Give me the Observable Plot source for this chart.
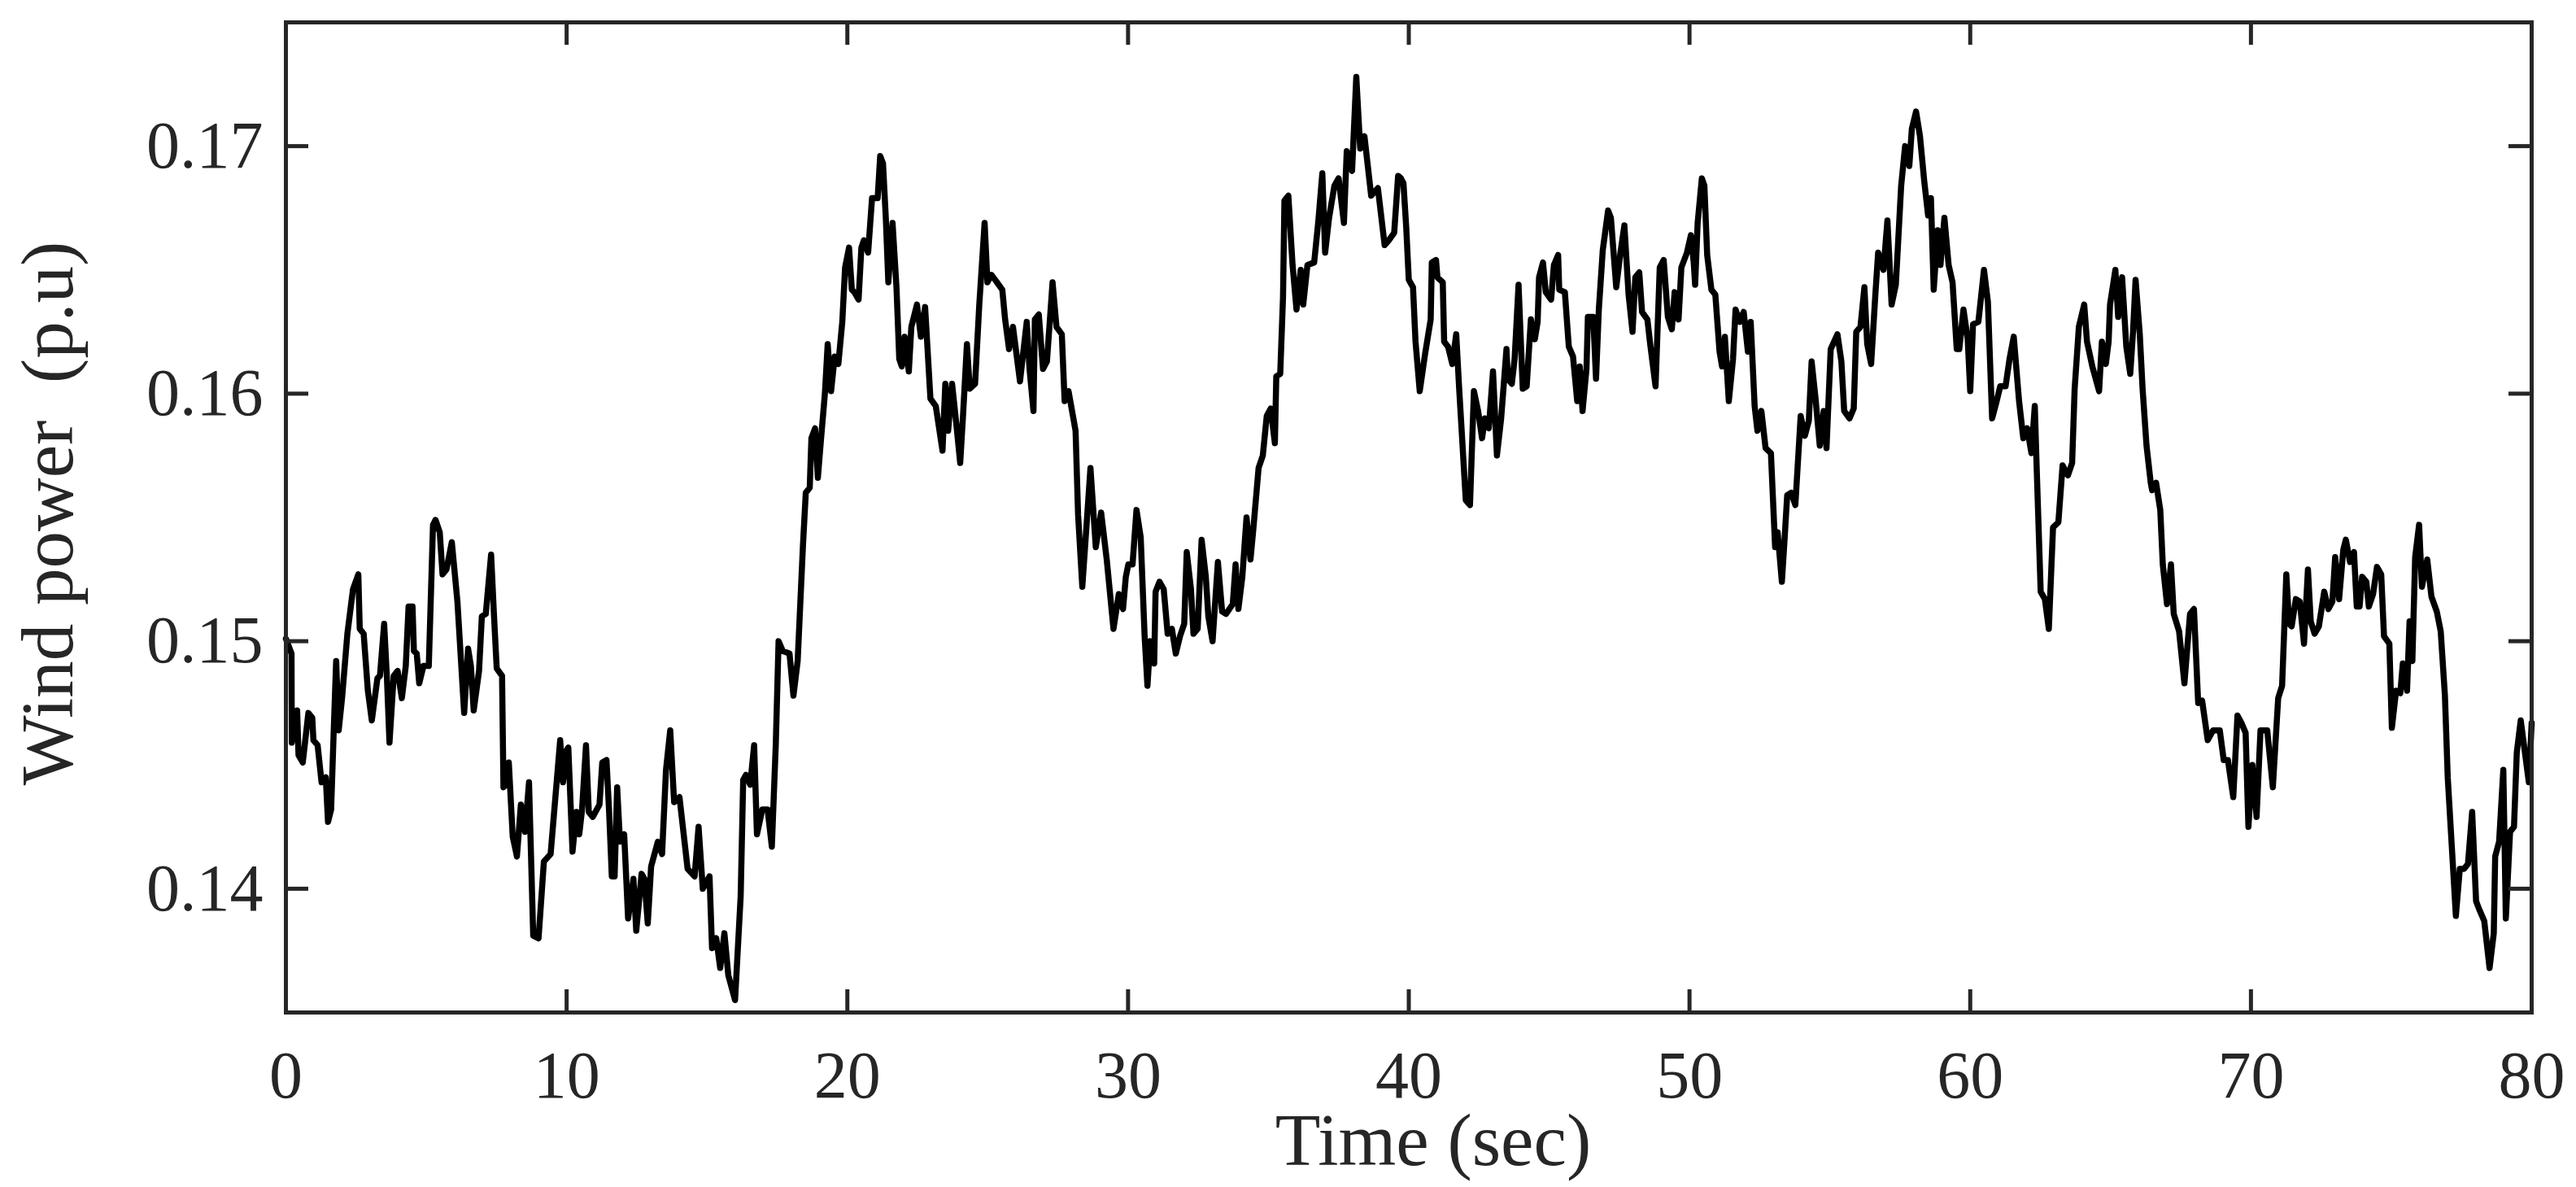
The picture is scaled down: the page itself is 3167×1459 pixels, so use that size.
<!DOCTYPE html>
<html>
<head>
<meta charset="utf-8">
<script src="https://cdn.jsdelivr.net/npm/d3@7"></script>
<script src="https://cdn.jsdelivr.net/npm/@observablehq/plot@0.6"></script>
<style>
  html, body { margin: 0; padding: 0; background: #ffffff; }
  #chart svg text { white-space: pre; }
</style>
</head>
<body>
<div id="chart"></div>
<script>
// Time axis (seconds)
const time = [
  0, 0.2, 0.21, 0.4, 0.45, 0.6, 0.8, 0.94, 0.98, 1.13,
  1.27, 1.42, 1.5, 1.61, 1.71, 1.79, 1.88, 2.0, 2.19, 2.39,
  2.58, 2.63, 2.77, 2.92, 3.06, 3.26, 3.35, 3.5, 3.6, 3.69,
  3.84, 3.98, 4.13, 4.27, 4.37, 4.51, 4.56, 4.66, 4.75, 4.9,
  5.09, 5.24, 5.33, 5.48, 5.58, 5.72, 5.91, 6.11, 6.35, 6.49,
  6.59, 6.69, 6.88, 6.98, 7.12, 7.31, 7.41, 7.51, 7.7, 7.75,
  7.84, 7.94, 8.08, 8.23, 8.37, 8.52, 8.66, 8.81, 9.0, 9.19,
  9.43, 9.77, 9.87, 10.0,
  10.06, 10.21, 10.35, 10.45, 10.55, 10.69, 10.79, 10.93, 11.17, 11.27,
  11.42, 11.51, 11.61, 11.71, 11.8, 11.9, 12.05, 12.19, 12.38, 12.48,
  12.67, 12.77, 12.89, 13.01, 13.25, 13.4, 13.54, 13.69, 13.83, 14.02,
  14.31, 14.56, 14.7, 14.85, 15.09, 15.18, 15.33, 15.47, 15.62, 15.76,
  16.0, 16.2, 16.29, 16.39, 16.54, 16.68, 16.78, 16.97, 17.16, 17.31,
  17.45, 17.55, 17.7, 17.94, 18.08, 18.23, 18.42, 18.52, 18.66, 18.72,
  18.85, 18.95, 19.05, 19.2, 19.3, 19.42, 19.55, 19.68,
  19.82, 19.92, 20.06, 20.16, 20.25, 20.4, 20.5, 20.59, 20.74, 20.88,
  21.08, 21.17, 21.27, 21.37, 21.46, 21.61, 21.75, 21.85, 21.94, 22.04,
  22.19, 22.28, 22.48, 22.62, 22.77, 22.96, 23.15, 23.39, 23.49, 23.59,
  23.73, 23.88, 24.02, 24.12, 24.26, 24.36, 24.55, 24.7, 24.89, 24.99,
  25.13, 25.33, 25.52, 25.62, 25.76, 25.9, 26.15, 26.39, 26.49, 26.63,
  26.68, 26.82, 26.97, 27.11, 27.31, 27.45, 27.64, 27.74, 27.88, 28.13,
  28.22, 28.37, 28.51, 28.66, 28.85, 29.04, 29.24, 29.48, 29.67,
  29.82, 29.92, 30.01, 30.16, 30.3, 30.45, 30.59, 30.69, 30.79, 30.93,
  30.98, 31.12, 31.27, 31.41, 31.56, 31.7, 31.85, 32.0, 32.09, 32.24,
  32.33, 32.48, 32.62, 32.77, 32.86, 33.01, 33.2, 33.35, 33.49, 33.73,
  33.83, 33.93, 34.07, 34.22, 34.36, 34.46, 34.65, 34.8, 34.94, 35.08,
  35.23, 35.28, 35.42, 35.52, 35.57, 35.71, 35.86, 36.0, 36.15, 36.24,
  36.39, 36.63, 36.78, 36.92, 37.02, 37.16, 37.35, 37.5, 37.69, 37.79,
  37.98, 38.13, 38.27, 38.42, 38.66, 38.9, 39.14, 39.29, 39.48, 39.62,
  39.72,
  39.81, 39.91, 40.0, 40.15, 40.24, 40.39, 40.58, 40.78, 40.82, 40.97,
  41.02, 41.21, 41.26, 41.4, 41.55, 41.69, 41.79, 42.03, 42.18, 42.32,
  42.47, 42.61, 42.71, 42.85, 43.0, 43.14, 43.29, 43.48, 43.53, 43.67,
  43.77, 43.91, 44.06, 44.2, 44.35, 44.49, 44.59, 44.64, 44.78, 44.88,
  45.07, 45.17, 45.32, 45.36, 45.56, 45.7, 45.85, 46.0, 46.09, 46.19,
  46.33, 46.38, 46.57, 46.67, 46.77, 46.91, 47.1, 47.2, 47.39, 47.54,
  47.68, 47.83, 47.97, 48.07, 48.21, 48.31, 48.5, 48.6, 48.79, 48.94,
  49.08, 49.23, 49.37, 49.47, 49.61, 49.71,
  49.91, 50.05, 50.15, 50.2, 50.29, 50.44, 50.53, 50.63, 50.78, 50.92,
  51.07, 51.16, 51.26, 51.4, 51.55, 51.64, 51.79, 51.93, 52.08, 52.18,
  52.32, 52.42, 52.56, 52.71, 52.9, 53.05, 53.14, 53.29, 53.38, 53.48,
  53.62, 53.77, 53.96, 54.11, 54.25, 54.35, 54.49, 54.64, 54.78, 54.88,
  55.03, 55.27, 55.41, 55.51, 55.7, 55.85, 55.94, 56.09, 56.23, 56.33,
  56.47, 56.62, 56.72, 56.91, 57.05, 57.2, 57.35, 57.54, 57.68, 57.83,
  57.92, 58.07, 58.21, 58.36, 58.5, 58.6, 58.7, 58.84, 58.94, 59.08,
  59.23, 59.37, 59.52, 59.61, 59.76,
  59.91, 60.0, 60.1, 60.29, 60.49, 60.63, 60.78, 60.92, 61.07, 61.26,
  61.4, 61.55, 61.74, 61.89, 62.03, 62.18, 62.3, 62.37, 62.51, 62.66,
  62.8, 62.95, 63.14, 63.29, 63.48, 63.63, 63.72, 63.87, 64.06, 64.16,
  64.35, 64.59, 64.69, 64.83, 64.93, 64.98, 65.17, 65.27, 65.41, 65.56,
  65.7, 65.8, 65.89, 66.04, 66.14, 66.28, 66.43, 66.48, 66.62, 66.77,
  66.86, 67.01, 67.15, 67.25, 67.44, 67.63, 67.83, 67.97, 68.12, 68.26,
  68.46, 68.65, 68.89, 69.03, 69.18, 69.37, 69.52, 69.66,
  69.81, 69.91, 70.05, 70.2, 70.34, 70.58, 70.78, 70.97, 71.11, 71.26,
  71.36, 71.45, 71.6, 71.74, 71.89, 72.03, 72.13, 72.27, 72.42, 72.61,
  72.76, 72.9, 73.0, 73.14, 73.29, 73.38, 73.53, 73.67, 73.77, 73.87,
  73.96, 74.11, 74.2, 74.35, 74.49, 74.64, 74.74, 74.93, 75.02, 75.17,
  75.32, 75.41, 75.56, 75.65, 75.75, 75.85, 75.99, 76.09, 76.28, 76.43,
  76.62, 76.76, 76.91, 77.01, 77.15, 77.3, 77.44, 77.59, 77.73, 77.88,
  78.02, 78.12, 78.31, 78.5, 78.65, 78.7, 78.84, 78.99, 79.08, 79.23,
  79.37, 79.47, 79.61, 79.76, 79.9, 80.0
];

// Wind power (p.u)
const power = [
  .1501, .1495, .1459, .1472, .1454, .1451, .1471, .1469, .1460, .1458,
  .1443, .1445, .1427, .1432, .1466, .1492, .1464, .1477, .1503, .1521,
  .1527, .1505, .1503, .1480, .1468, .1485, .1486, .1507, .1485, .1459,
  .1486, .1488, .1477, .1490, .1514, .1514, .1496, .1495, .1483, .1490,
  .1490, .1547, .1549, .1544, .1527, .1529, .1540, .1516, .1471, .1497,
  .1490, .1472, .1488, .1510, .1511, .1535, .1511, .1489, .1486, .1441,
  .1442, .1451, .1421, .1413, .1434, .1423, .1443, .1381, .1380, .1411,
  .1414, .1460, .1443, .1456,
  .1457, .1415, .1431, .1422, .1432, .1458, .1431, .1429, .1434, .1451,
  .1452, .1432, .1405, .1405, .1441, .1419, .1422, .1388, .1404, .1383,
  .1406, .1404, .1386, .1409, .1419, .1414, .1448, .1464, .1435, .1437,
  .1408, .1405, .1425, .1400, .1405, .1376, .1380, .1368, .1382, .1365,
  .1355, .1397, .1444, .1446, .1442, .1458, .1422, .1432, .1432, .1417,
  .1458, .1500, .1496, .1495, .1478, .1492, .1539, .1560, .1562, .1582,
  .1586, .1566, .1580, .1600, .1620, .1601, .1615, .1612,
  .1629, .1651, .1659, .1642, .1641, .1638, .1659, .1662, .1657, .1679,
  .1679, .1696, .1693, .1671, .1645, .1669, .1643, .1614, .1611, .1623,
  .1609, .1627, .1636, .1623, .1635, .1598, .1595, .1577, .1604, .1585,
  .1604, .1588, .1572, .1591, .1620, .1602, .1604, .1636, .1669, .1645,
  .1648, .1645, .1642, .1630, .1618, .1627, .1605, .1629, .1610, .1593,
  .1630, .1632, .1610, .1613, .1645, .1627, .1624, .1597, .1601, .1585,
  .1551, .1522, .1545, .1570, .1538, .1552, .1533, .1505, .1519,
  .1513, .1526, .1531, .1531, .1553, .1542, .1502, .1482, .1500, .1491,
  .1520, .1524, .1521, .1503, .1505, .1495, .1502, .1507, .1536, .1521,
  .1503, .1505, .1541, .1526, .1510, .1500, .1532, .1512, .1511, .1515,
  .1531, .1513, .1526, .1550, .1533, .1545, .1570, .1575, .1591, .1594,
  .1580, .1607, .1608, .1639, .1678, .1680, .1652, .1634, .1650, .1636,
  .1652, .1653, .1670, .1689, .1657, .1671, .1684, .1687, .1669, .1698,
  .1690, .1728, .1699, .1704, .1680, .1683, .1660, .1662, .1665, .1688,
  .1687,
  .1685, .1667, .1646, .1643, .1621, .1601, .1616, .1630, .1653, .1654,
  .1647, .1645, .1621, .1619, .1612, .1624, .1603, .1557, .1555, .1601,
  .1593, .1582, .1590, .1586, .1609, .1575, .1590, .1618, .1606, .1604,
  .1614, .1644, .1602, .1603, .1630, .1622, .1629, .1647, .1653, .1641,
  .1638, .1652, .1656, .1642, .1641, .1619, .1615, .1597, .1611, .1593,
  .1610, .1631, .1631, .1606, .1634, .1658, .1674, .1671, .1643, .1657,
  .1668, .1640, .1625, .1647, .1649, .1633, .1630, .1620, .1603, .1651,
  .1654, .1631, .1626, .1641, .1630, .1651,
  .1657, .1664, .1653, .1644, .1669, .1687, .1684, .1656, .1642, .1640,
  .1617, .1611, .1623, .1597, .1614, .1634, .1629, .1633, .1617, .1629,
  .1595, .1585, .1593, .1578, .1576, .1538, .1544, .1524, .1540, .1559,
  .1560, .1555, .1591, .1583, .1589, .1613, .1598, .1579, .1593, .1578,
  .1618, .1624, .1613, .1593, .1590, .1594, .1625, .1627, .1643, .1620,
  .1612, .1640, .1657, .1650, .1670, .1636, .1644, .1684, .1700, .1692,
  .1707, .1714, .1704, .1686, .1672, .1679, .1642, .1666, .1652, .1671,
  .1652, .1645, .1618, .1618, .1634,
  .1622, .1601, .1628, .1629, .1650, .1637, .1590, .1596, .1603, .1603,
  .1614, .1623, .1597, .1582, .1586, .1576, .1595, .1569, .1520, .1517,
  .1505, .1546, .1548, .1571, .1567, .1572, .1602, .1627, .1636, .1621,
  .1611, .1601, .1621, .1612, .1621, .1636, .1650, .1631, .1647, .1619,
  .1608, .1625, .1646, .1624, .1602, .1579, .1564, .1561, .1564, .1553,
  .1531, .1515, .1531, .1511, .1504, .1483, .1511, .1513, .1475, .1476,
  .1460, .1464, .1464, .1452, .1452, .1437, .1470, .1467,
  .1463, .1425, .1450, .1429, .1464, .1464, .1441, .1477, .1482, .1527,
  .1507, .1506, .1517, .1516, .1499, .1529, .1508, .1503, .1506, .1520,
  .1513, .1516, .1534, .1517, .1537, .1541, .1532, .1536, .1514, .1514,
  .1526, .1524, .1514, .1519, .1530, .1527, .1502, .1499, .1465, .1480,
  .1479, .1491, .1480, .1508, .1492, .1534, .1547, .1522, .1533, .1518,
  .1512, .1504, .1478, .1445, .1418, .1389, .1408, .1408, .1410, .1431,
  .1395, .1392, .1387, .1368, .1382, .1413, .1419, .1448, .1388, .1423,
  .1425, .1455, .1468, .1455, .1443, .1467
];

const xTicks = [0, 10, 20, 30, 40, 50, 60, 70, 80];
const yTicks = [0.14, 0.15, 0.16, 0.17];
const xLabel = "Time (sec)";
const yLabel = "Wind power  (p.u)";

const n = Math.min(time.length, power.length);
if (time.length !== power.length) console.warn("length mismatch", time.length, power.length);
const data = d3.range(n).map(i => ({t: time[i], p: power[i]}));

const W = 3167, H = 1459;
const mL = 351, mR = 55, mT = 27, mB = 215;
const frameW = W - mL - mR, frameH = H - mT - mB;
const tickLen = 28;
const ink = "#262626";

const chart = Plot.plot({
  width: W,
  height: H,
  marginLeft: mL,
  marginRight: mR,
  marginTop: mT,
  marginBottom: mB,
  style: {fontFamily: "'Liberation Serif', 'Times New Roman', serif", fontSize: "82px", color: ink, background: "#ffffff"},
  x: {domain: [0, 80]},
  y: {domain: [0.135, 0.175]},
  marks: [
    Plot.line(data, {x: "t", y: "p", stroke: "#000000", strokeWidth: 7.5, strokeLinejoin: "round", strokeLinecap: "round"}),
    // inward ticks on all four sides
    Plot.tickX(xTicks, {x: d => d, stroke: ink, strokeWidth: 5, insetTop: frameH - tickLen}),
    Plot.tickX(xTicks, {x: d => d, stroke: ink, strokeWidth: 5, insetBottom: frameH - tickLen}),
    Plot.tickY(yTicks, {y: d => d, stroke: ink, strokeWidth: 5, insetRight: frameW - tickLen}),
    Plot.tickY(yTicks, {y: d => d, stroke: ink, strokeWidth: 5, insetLeft: frameW - tickLen}),
    Plot.frame({stroke: ink, strokeWidth: 5}),
    Plot.axisX(xTicks, {tickSize: 0, tickPadding: 46, fontSize: 82, fill: ink, tickFormat: d => String(d), label: null}),
    Plot.axisY(yTicks, {tickSize: 0, tickPadding: 28, fontSize: 82, fill: ink, tickFormat: d3.format(".2f"), label: null}),
    Plot.text([xLabel], {frameAnchor: "bottom", textAnchor: "middle", lineAnchor: "bottom", dx: 30, dy: 187, fontSize: 91, fill: ink}),
    Plot.text([yLabel], {frameAnchor: "left", textAnchor: "middle", lineAnchor: "bottom", rotate: -90, dx: -263, dy: -5, fontSize: 91, fill: ink})
  ]
});

document.getElementById("chart").appendChild(chart);
</script>
</body>
</html>
